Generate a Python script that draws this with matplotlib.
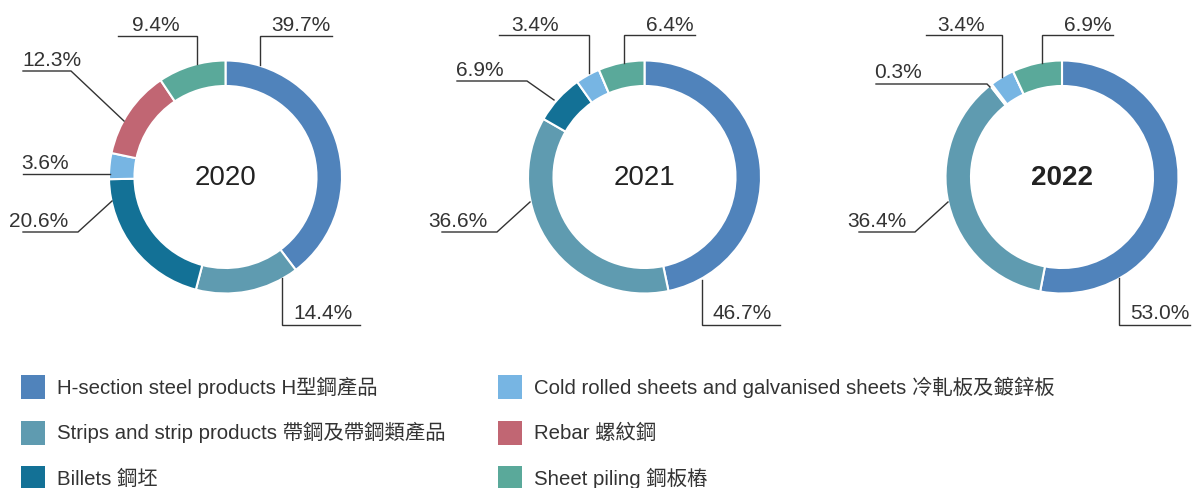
import matplotlib; matplotlib.use("Agg")
import matplotlib.pyplot as plt

plt.rcParams["font.family"] = ["Liberation Sans", "Noto Sans CJK TC", "DejaVu Sans"]

W, H = 1192, 488          # figure size in pixels (dpi 100)
INK = "#333333"

# ---- data ----
CATEGORIES = ["H-section steel products H型鋼產品",
              "Strips and strip products 帶鋼及帶鋼類產品",
              "Billets 鋼坯",
              "Cold rolled sheets and galvanised sheets 冷軋板及鍍鋅板",
              "Rebar 螺紋鋼",
              "Sheet piling 鋼板樁"]
COLORS = ["#5083BB", "#5F9BB0", "#137196", "#77B5E3", "#C16673", "#5AA99A"]
YEARS = ["2020", "2021", "2022"]
SHARE_2020 = [39.7, 14.4, 20.6, 3.6, 12.3, 9.4]
SHARE_2021 = [46.7, 36.6, 6.9, 3.4, 0.0, 6.4]
SHARE_2022 = [53.0, 36.4, 0.3, 3.4, 0.0, 6.9]
SHARES = [SHARE_2020, SHARE_2021, SHARE_2022]

# ---- layout (pixel coords, y measured from top) ----
CENTERS = [(225.5, 177), (644.5, 177), (1062, 177)]
R_OUT, RING = 116.5, 25.5
# category index -> (leader polyline, (text x centre, text baseline))
LEADERS = [
    {0: ([(260, 65), (260, 36), (332, 36)], (301, 31)),
     5: ([(197, 64), (197, 36), (118, 36)], (156, 31)),
     4: ([(124, 121), (71, 71), (23, 71)], (52, 66)),
     3: ([(110, 174), (23, 174)], (45, 169)),
     2: ([(112, 201), (78, 232), (23, 232)], (39, 227)),
     1: ([(282, 278), (282, 325), (360, 325)], (323, 319))},
    {0: ([(702, 280), (702, 325), (780, 325)], (742, 319)),
     1: ([(530, 202), (497, 232), (442, 232)], (458, 227)),
     2: ([(554, 100), (527, 81), (457, 81)], (480, 76)),
     3: ([(589, 73), (589, 35), (499, 35)], (535, 31)),
     5: ([(624, 63), (624, 35), (695, 35)], (670, 31))},
    {0: ([(1119, 278), (1119, 325), (1190, 325)], (1160, 319)),
     1: ([(948, 202), (915, 232), (859, 232)], (877, 227)),
     2: ([(990, 87), (987, 84), (876, 84)], (898, 78)),
     3: ([(1002, 77), (1002, 35), (926, 35)], (961, 31)),
     5: ([(1042, 63), (1042, 35), (1113, 35)], (1088, 31))},
]

def fy(y):
    return H - y

fig = plt.figure(figsize=(W / 100, H / 100), dpi=100)
ax = fig.add_axes([0, 0, 1, 1])

for i, (year, vals) in enumerate(zip(YEARS, SHARES)):
    cx, cy = CENTERS[i]
    ax.pie(vals, colors=COLORS, center=(cx, fy(cy)), radius=R_OUT,
           startangle=90, counterclock=False,
           wedgeprops=dict(width=RING, edgecolor="white", linewidth=1.5))
    ax.text(cx, fy(185), year, ha="center", va="baseline", fontsize=20, color="#222222",
            fontweight="bold" if year == "2022" else "normal")
    for k, (pts, (tx, ty)) in LEADERS[i].items():
        ax.plot([p[0] for p in pts], [fy(p[1]) for p in pts], color=INK, lw=1.0,
                solid_joinstyle="miter")
        ax.text(tx, fy(ty), f"{vals[k]:.1f}%", ha="center", va="baseline",
                fontsize=15, color=INK)

ax.set_xlim(0, W); ax.set_ylim(0, H); ax.set_aspect("equal")
ax.axis("off")

# legend handles without the white wedge outline
leg_handles = [plt.Rectangle((0, 0), 1, 1, facecolor=c, edgecolor="none") for c in COLORS]
leg_kw = dict(loc="upper left", frameon=False, fontsize=14.7, handlelength=1.18,
              handleheight=1.43, handletextpad=0.6, labelspacing=1.06,
              borderpad=0, borderaxespad=0, labelcolor=INK)
fig.legend(handles=leg_handles[:3], labels=CATEGORIES[:3],
           bbox_to_anchor=(21 / W, 1 - 375 / H), **leg_kw)
fig.legend(handles=leg_handles[3:], labels=CATEGORIES[3:],
           bbox_to_anchor=(498 / W, 1 - 375 / H), **leg_kw)

fig.savefig("out.png", dpi=100)
